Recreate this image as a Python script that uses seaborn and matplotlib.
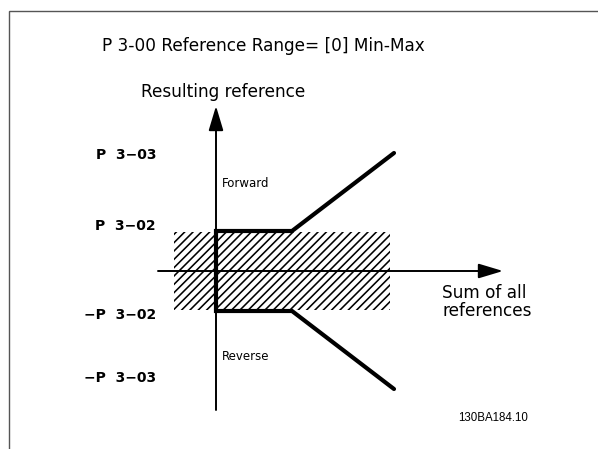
import matplotlib
matplotlib.use("Agg")
import matplotlib.pyplot as plt
import seaborn as sns
import pandas as pd
from matplotlib.patches import Rectangle

# ---- data (abstract units: 1 unit = P 3-02 level) ----
path_x = [4.45, 1.9, 0.0, 0.0, 1.9, 4.45]
path_y = [2.95, 1.0, 1.0, -1.0, -1.0, -2.95]
level_labels = ["P  3\u221203", "P  3\u221202", "\u2212P  3\u221202", "\u2212P  3\u221203"]
level_values = [2.95, 1.0, -1.0, -2.95]
deadband_x = [-1.05, 4.35]
deadband_y = [-0.97, 0.97]
title = "P 3-00 Reference Range= [0] Min-Max"
y_label = "Resulting reference"
x_label = "Sum of all\nreferences"
region_labels = ["Forward", "Reverse"]
code = "130BA184.10"

sns.set_theme(style="white")
plt.rcParams["font.family"] = ["DejaVu Sans"]
plt.rcParams["text.color"] = "black"
plt.rcParams["hatch.linewidth"] = 1.15

W, H = 598, 449
fig = plt.figure(figsize=(W / 100, H / 100), dpi=100)
ax = fig.add_axes([0, 0, 1, 1])
# 40 px per unit, origin at pixel (216, 271)
ox, oy, s = 216, 271, 40.0
ax.set_xlim(-ox / s, (W - ox) / s)
ax.set_ylim(-(H - oy) / s, oy / s)
ax.axis("off")

# border (top and left lines)
fig.add_artist(Rectangle((9 / W, -0.1), 1.2, (H - 11) / H + 0.1, transform=fig.transFigure,
                         fill=False, edgecolor="#555555", lw=1.0))

# hatched dead band
ax.add_patch(Rectangle((deadband_x[0], deadband_y[0]), deadband_x[1] - deadband_x[0],
                       deadband_y[1] - deadband_y[0], facecolor="none", edgecolor="black",
                       hatch="////", lw=0, zorder=1))

# axes arrows
arrow = dict(arrowstyle="-|>,head_length=1.5,head_width=0.45", color="black", lw=1.4,
             mutation_scale=10, shrinkA=0, shrinkB=0)
ax.annotate("", xy=(0, (oy - 106) / s), xytext=(0, -(410 - oy) / s), arrowprops=arrow, zorder=2)
ax.annotate("", xy=((503 - ox) / s, 0), xytext=((158 - ox) / s, 0), arrowprops=arrow, zorder=2)

# characteristic
df = pd.DataFrame({"x": path_x, "y": path_y})
sns.lineplot(data=df, x="x", y="y", sort=False, estimator=None, color="black", lw=3.0, ax=ax,
             zorder=3)
ax.lines[-1].set_solid_joinstyle("miter")
ax.axis("off")

# texts
ax.text((102 - ox) / s, (oy - 46) / s, title, fontsize=12.2, va="center", ha="left")
ax.text((141 - ox) / s, (oy - 92) / s, y_label, fontsize=12.2, va="center", ha="left")
label_px = [155, 226, 315, 378]
for lab, py in zip(level_labels, label_px):
    ax.text((156 - ox) / s, (oy - py) / s, lab, fontsize=10, fontweight="bold", ha="right",
            va="center")
ax.text((222 - ox) / s, (oy - 183) / s, region_labels[0], fontsize=8.5, va="center", ha="left")
ax.text((222 - ox) / s, (oy - 357) / s, region_labels[1], fontsize=8.5, va="center", ha="left")
ax.text((442 - ox) / s, (oy - 302) / s, x_label, fontsize=12.2, va="center", ha="left",
        linespacing=1.0)
ax.text((493 - ox) / s, (oy - 418) / s, code, fontsize=8.3, va="center", ha="center",
        family="Liberation Sans")

fig.savefig("out.png", dpi=100)
